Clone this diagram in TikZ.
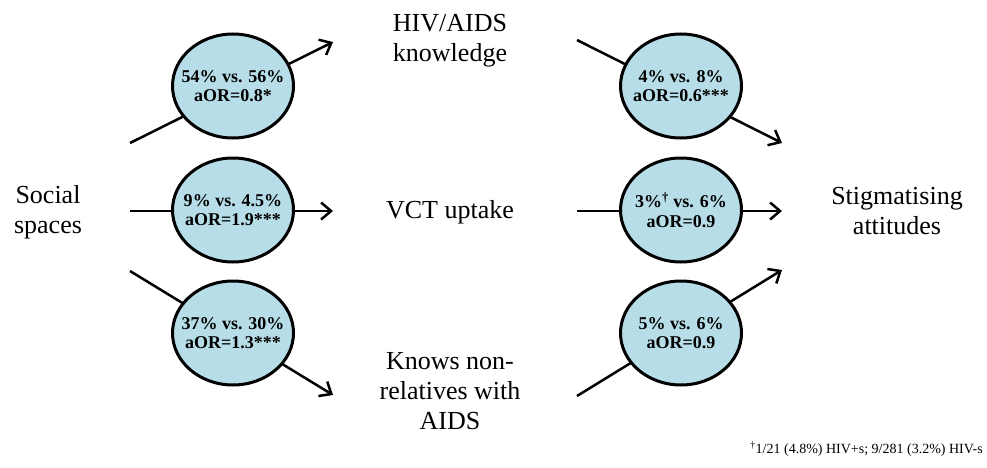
\documentclass[tikz,border=0pt]{standalone}
\usepackage{fontspec}
\setmainfont{Liberation Serif}
\usetikzlibrary{arrows.meta,shapes.geometric}
\definecolor{oddsfill}{HTML}{B7DEE8}
\begin{document}
\begin{tikzpicture}[x=1pt,y=-1pt,
  oddsnode/.style={ellipse, draw=black, line width=3pt, fill=oddsfill,
    minimum width=121pt, minimum height=104pt, inner sep=-30pt,
    font=\rmfamily\fontsize{18}{19.5}\selectfont\bfseries, align=center},
  textlabel/.style={font=\rmfamily\fontsize{26}{30}\selectfont, align=center},
  flowarrow/.style={line width=2.5pt, -{Straight Barb[length=10pt,width=17pt]}}]
\useasboundingbox (0,0) rectangle (987,468);

% arrow ends
\coordinate (l1s) at (130,143); \coordinate (l1e) at (333,42);
\coordinate (l2s) at (130,211); \coordinate (l2e) at (333,211);
\coordinate (l3s) at (130,271); \coordinate (l3e) at (333,395);
\coordinate (r1s) at (577,40);  \coordinate (r1e) at (782,143);
\coordinate (r2s) at (577,211); \coordinate (r2e) at (782,211);
\coordinate (r3s) at (577,396); \coordinate (r3e) at (782,270);

% arrows pass behind the odds ellipses
\draw[flowarrow] (l1s) -- (l1e);
\draw[flowarrow] (l2s) -- (l2e);
\draw[flowarrow] (l3s) -- (l3e);
\draw[flowarrow] (r1s) -- (r1e);
\draw[flowarrow] (r2s) -- (r2e);
\draw[flowarrow] (r3s) -- (r3e);

% odds ellipses
\node[oddsnode] (o1) at (233,86)  {54\% vs. 56\%\\aOR=0.8*};
\node[oddsnode] (o2) at (233,210) {9\% vs. 4.5\%\\aOR=1.9***};
\node[oddsnode] (o3) at (233,333) {37\% vs. 30\%\\aOR=1.3***};
\node[oddsnode] (o4) at (681,86)  {4\% vs. 8\%\\aOR=0.6***};
\node[oddsnode] (o5) at (681,210) {3\%\textsuperscript{\textdagger} vs. 6\%\\aOR=0.9};
\node[oddsnode] (o6) at (681,333) {5\% vs. 6\%\\aOR=0.9};

% labels
\node[textlabel] (social) at (48,212) {Social\\spaces};
\node[textlabel] (know) at (450,41) {HIV/AIDS\\knowledge};
\node[textlabel] (vct) at (450,212) {VCT uptake};
\node[textlabel] (nonrel) at (450,391) {Knows non-\\relatives with\\AIDS};
\node[textlabel] (stigma) at (897,211) {Stigmatising\\attitudes};

% footnote
\node[anchor=east, font=\rmfamily\fontsize{14}{16}\selectfont, inner sep=0pt] (note) at (983,449)
  {\textsuperscript{\textdagger}1/21 (4.8\%) HIV+s; 9/281 (3.2\%) HIV-s};
\end{tikzpicture}
\end{document}
